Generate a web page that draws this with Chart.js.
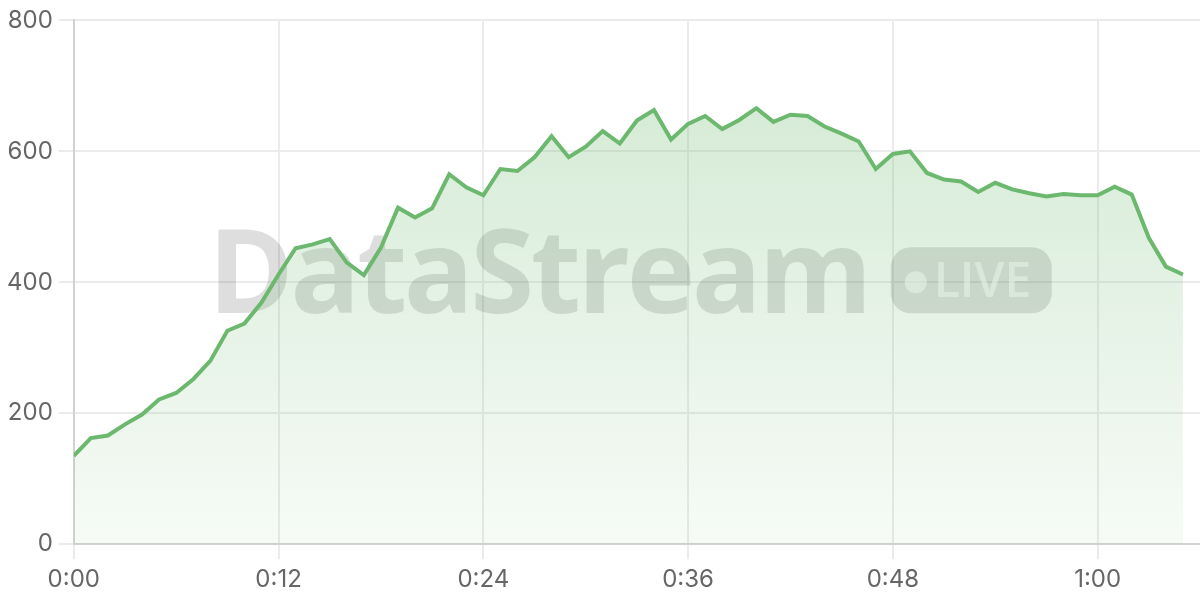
<!DOCTYPE html>
<html>
<head>
<meta charset="utf-8">
<title>DataStream LIVE</title>
<script src="https://cdn.jsdelivr.net/npm/chart.js@4.4.1/dist/chart.umd.min.js"></script>
<style>
    html, body { margin: 0; padding: 0; background: #fff; }
    #wrap { width: 1200px; height: 600px; position: relative; }
</style>
</head>
<body>
<div id="wrap"><canvas id="streamChart"></canvas></div>
<script>
// values read per minute, 0:00 .. 1:05
var streamValues = [135, 162, 166, 183, 198, 221, 231, 252, 280, 326,
    337, 369, 412, 452, 458, 466, 430, 411, 453, 514,
    499, 513, 565, 545, 533, 573, 570, 591, 623, 591,
    607, 631, 612, 647, 663, 618, 642, 654, 634, 648,
    666, 645, 656, 654, 638, 627, 615, 573, 596, 600,
    567, 557, 554, 538, 552, 542, 536, 531, 535, 533,
    533, 546, 534, 468, 424, 412];
var xTickLabels = ['0:00', '0:12', '0:24', '0:36', '0:48', '1:00'];
var yTicks = [0, 200, 400, 600, 800];

var lineColor = 'rgb(108, 184, 110)';

// watermark behind the line (fill goes over it)
var watermark = {
    id: 'watermark',
    beforeDatasetsDraw: function(chart) {
        var ctx = chart.ctx;
        var area = chart.chartArea;
        var cx = (area.left + area.right) / 2;
        var cy = (area.top + area.bottom) / 2;
        var baseY = cy + 31;
        ctx.save();
        ctx.font = 'bold 116px "Open Sans"';
        ctx.letterSpacing = '-3.5px';
        var textW = ctx.measureText('DataStream').width;
        var gap = 22, badgeW = 161, badgeH = 66;
        var startX = cx - (textW + gap + badgeW) / 2 - 7;
        ctx.fillStyle = 'rgba(0, 0, 0, 0.13)';
        ctx.textBaseline = 'alphabetic';
        ctx.textAlign = 'left';
        ctx.fillText('DataStream', startX, baseY);

        // LIVE badge
        ctx.letterSpacing = '0px';
        var bx = startX + textW + gap;
        var by = baseY - badgeH;
        ctx.beginPath();
        ctx.roundRect(bx, by, badgeW, badgeH, 20);
        ctx.fill();
        ctx.fillStyle = 'rgba(255, 255, 255, 0.62)';
        ctx.beginPath();
        ctx.arc(bx + 25, by + 35, 11, 0, Math.PI * 2);
        ctx.fill();
        ctx.font = '600 48px "Open Sans"';
        ctx.fillText('LIVE', bx + 43, baseY - 16);
        ctx.restore();
    }
};

var ctx = document.getElementById('streamChart').getContext('2d');
var streamChart = new Chart(ctx, {
    type: 'line',
    data: {
        datasets: [{
            label: 'DataStream',
            data: streamValues.map(function(v, i) { return { x: i, y: v }; }),
            borderColor: lineColor,
            borderWidth: 4,
            pointRadius: 0,
            tension: 0,
            fill: 'origin',
            backgroundColor: function(context) {
                var chart = context.chart;
                var area = chart.chartArea;
                if (!area) return 'rgba(108, 184, 110, 0.15)';
                var g = chart.ctx.createLinearGradient(0, area.top, 0, area.bottom);
                g.addColorStop(0, 'rgba(108, 184, 110, 0.32)');
                g.addColorStop(1, 'rgba(108, 184, 110, 0.06)');
                return g;
            }
        }]
    },
    options: {
        responsive: true,
        maintainAspectRatio: false,
        animation: false,
        layout: { padding: { top: 20, right: 0, bottom: 0, left: 1 } },
        plugins: {
            legend: { display: false },
            tooltip: { enabled: false }
        },
        scales: {
            x: {
                type: 'linear',
                min: 0,
                max: 66,
                border: { color: '#d2d2d2', width: 2 },
                grid: { color: '#ebebeb', lineWidth: 2, tickLength: 15 },
                ticks: {
                    stepSize: 12,
                    includeBounds: false,
                    padding: 6,
                    color: '#666',
                    font: { family: 'Inter', size: 24 },
                    callback: function(value) {
                        return xTickLabels[value / 12];
                    }
                }
            },
            y: {
                min: 0,
                max: 800,
                border: { color: '#d2d2d2', width: 2 },
                grid: { color: '#ebebeb', lineWidth: 2, tickLength: 15 },
                afterBuildTicks: function(axis) {
                    axis.ticks = yTicks.map(function(v) { return { value: v }; });
                },
                ticks: {
                    padding: 6,
                    color: '#666',
                    font: { family: 'Inter', size: 24 }
                }
            }
        }
    },
    plugins: [watermark]
});
</script>
</body>
</html>
